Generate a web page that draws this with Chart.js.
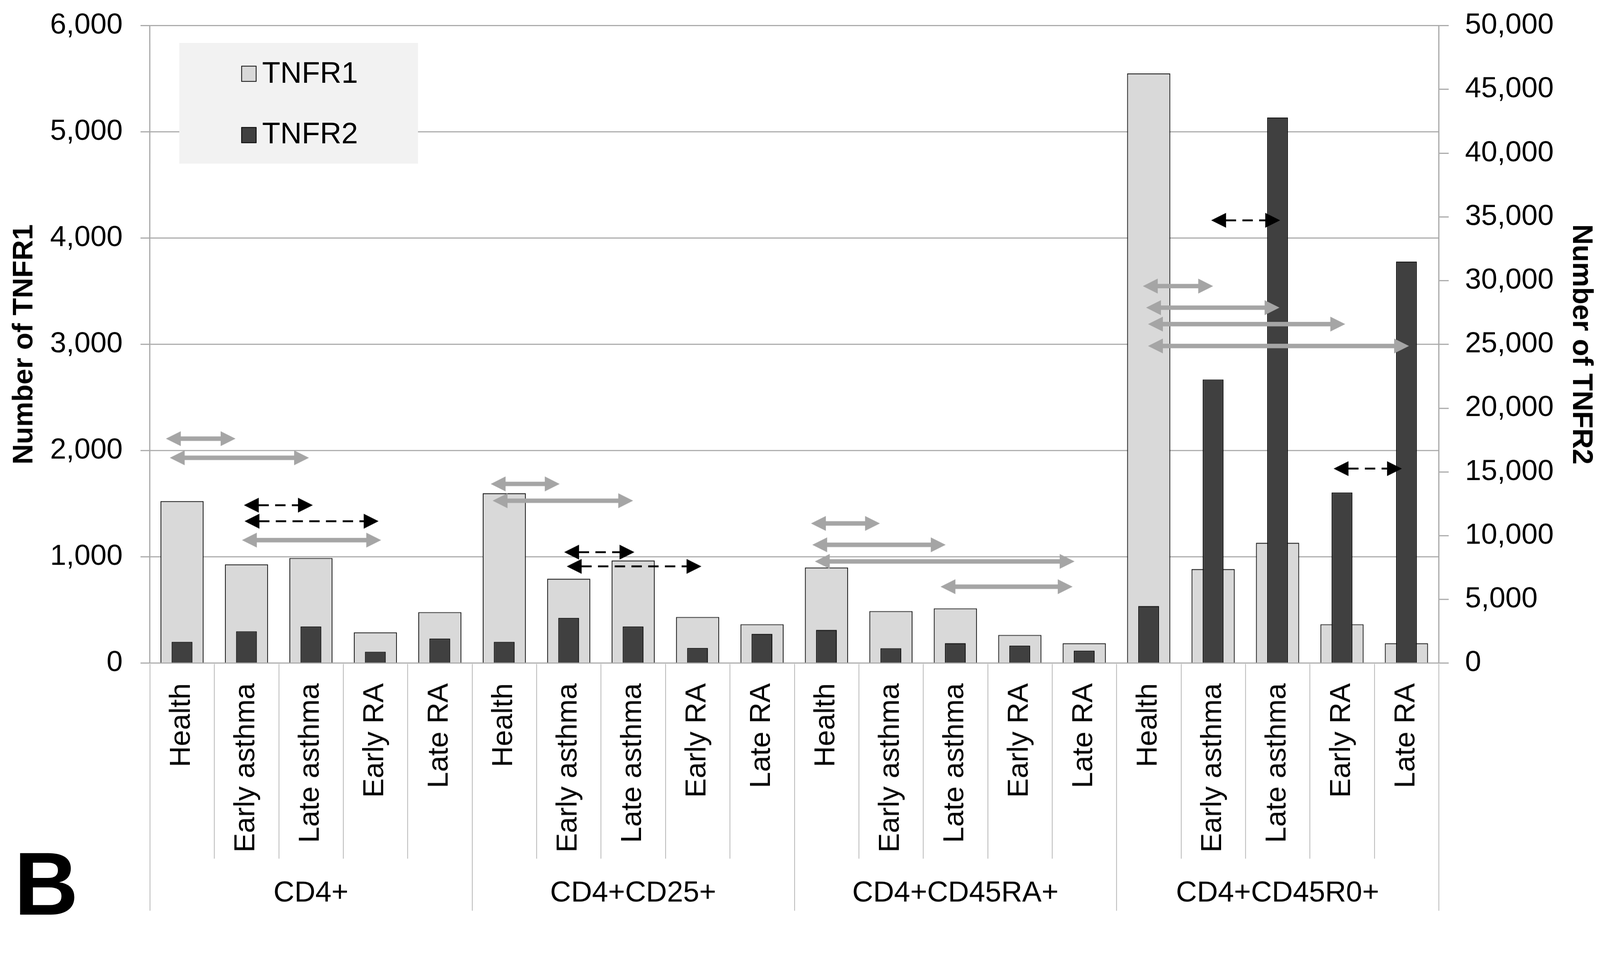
<!DOCTYPE html>
<html>
<head>
<meta charset="utf-8">
<title>TNFR1 / TNFR2 by T-cell subset</title>
<script src="https://cdn.jsdelivr.net/npm/chart.js@4.4.1/dist/chart.umd.min.js"></script>
<style>
  html, body { margin: 0; padding: 0; background: #fff; overflow: hidden; height: 100vh; }
  #frame { position: relative; width: 100vw; height: 100vh; overflow: hidden; }
  #wrap { position: absolute; left: 0; top: 0; width: 4304px; height: 2494px; transform-origin: 0 0;
          font-family: "Liberation Sans", Arial, sans-serif; }
  #legend { position: absolute; left: 482px; top: 116px; width: 641px; height: 324px; background: #f2f2f2; }
  .swatch { position: absolute; left: 167px; width: 41px; height: 43px; box-sizing: border-box; border: 2px solid #000; }
  .ltext { position: absolute; left: 223px; font-size: 80px; line-height: 80px; color: #000; }
  #panel { position: absolute; left: 38px; top: 2259px; font-size: 239px; line-height: 239px; font-weight: bold; color: #000; }
</style>
</head>
<body>
<div id="frame">
<div id="wrap">
  <canvas id="chart"></canvas>
  <div id="legend">
    <div class="swatch" style="top:61px;background:#d9d9d9"></div>
    <div class="ltext" style="top:40px">TNFR1</div>
    <div class="swatch" style="top:226px;background:#404040"></div>
    <div class="ltext" style="top:203px">TNFR2</div>
  </div>
  <div id="panel">B</div>
</div>
</div>
<script>
// ── Data ───────────────────────────────────────────────────────────────────

const GROUPS    = ["CD4+", "CD4+CD25+", "CD4+CD45RA+", "CD4+CD45R0+"];
const SUBGROUPS = ["Health", "Early asthma", "Late asthma", "Early RA", "Late RA"];

// left axis (TNFR1) and right axis (TNFR2), one value per group × subgroup
const TNFR1 = [1525, 930, 990, 290, 480,
               1600, 795, 966, 435, 366,
               900, 490, 516, 266, 188,
               5550, 885, 1133, 366, 188];
const TNFR2 = [1670, 2500, 2870, 900, 1930,
               1670, 3550, 2870, 1190, 2300,
               2610, 1175, 1570, 1370, 980,
               4480, 22250, 42800, 13380, 31500];

const LEFT_TICKS  = { max: 6000, step: 1000 };
const RIGHT_TICKS = { max: 50000, step: 5000 };

// comparison arrows: category span (index units) and height on the TNFR1 axis
const ARROW_FROM = [-0.25, -0.19, 0.96, 0.97, 0.93,
                    4.79, 4.82, 5.93, 5.97,
                    9.76, 9.78, 9.82, 11.77,
                    15.97, 14.91, 14.96, 14.99, 14.99, 17.87];
const ARROW_TO   = [0.83, 1.97, 2.03, 3.05, 3.09,
                    5.86, 7.00, 7.02, 8.06,
                    10.83, 11.85, 13.85, 13.82,
                    17.04, 16.00, 17.03, 18.05, 19.04, 18.93];
const ARROW_AT   = [2113, 1933, 1487, 1336, 1158,
                    1687, 1529, 1045, 911,
                    1315, 1114, 958, 720,
                    4168, 3549, 3346, 3191, 2985, 1831];
const ARROW_KIND = ["r1", "r1", "r2", "r2", "r1",
                    "r1", "r1", "r2", "r2",
                    "r1", "r1", "r1", "r1",
                    "r2", "r1", "r1", "r1", "r1", "r2"];

const LABELS = GROUPS.flatMap(() => SUBGROUPS);

// ── Styling ────────────────────────────────────────────────────────────────

const FONT = "'Liberation Sans', Arial, sans-serif";
const GRID = "#a6a6a6";
const ARROW_STYLE = {
  r1: { color: "#a5a5a5", width: 12, dash: [] },
  r2: { color: "#000000", width: 5,  dash: [28, 17] },
};
const HEAD_LEN = 40, HEAD_HALF = 20;

// the layout is drawn in a 4304-wide frame; fit it to the real viewport
const K = (window.innerWidth || 4304) / 4304;
document.getElementById("wrap").style.transform = `scale(${K})`;

Chart.defaults.font.family = FONT;
Chart.defaults.color = "#000";

const fmt = v => v.toLocaleString("en-US");

// fixed axis boxes, no extra label padding above/below the plot
const fixWidth = w => s => { s.width = w; s.paddingTop = 0; s.paddingBottom = 0; };

// arrows over the bars
const arrowPlugin = {
  id: "arrows",
  afterDatasetsDraw(chart) {
    const { ctx, scales: { x, y } } = chart;
    ARROW_FROM.forEach((from, i) => {
      const x1 = x.getPixelForValue(from);
      const x2 = x.getPixelForValue(ARROW_TO[i]);
      const yy = y.getPixelForValue(ARROW_AT[i]);
      const s  = ARROW_STYLE[ARROW_KIND[i]];
      ctx.save();
      ctx.strokeStyle = s.color;
      ctx.fillStyle = s.color;
      ctx.lineWidth = s.width;
      ctx.setLineDash(s.dash);
      ctx.beginPath();
      ctx.moveTo(x1 + HEAD_LEN - 1, yy);
      ctx.lineTo(x2 - HEAD_LEN + 1, yy);
      ctx.stroke();
      ctx.setLineDash([]);
      ctx.beginPath();
      ctx.moveTo(x1, yy);
      ctx.lineTo(x1 + HEAD_LEN, yy - HEAD_HALF);
      ctx.lineTo(x1 + HEAD_LEN, yy + HEAD_HALF);
      ctx.closePath();
      ctx.moveTo(x2, yy);
      ctx.lineTo(x2 - HEAD_LEN, yy - HEAD_HALF);
      ctx.lineTo(x2 - HEAD_LEN, yy + HEAD_HALF);
      ctx.closePath();
      ctx.fill();
      ctx.restore();
    });
  },
};

// two-level category axis: separators + group names
const groupAxisPlugin = {
  id: "groupAxis",
  afterDraw(chart) {
    const { ctx, chartArea, scales: { x } } = chart;
    const n = SUBGROUPS.length;
    ctx.save();
    ctx.strokeStyle = "#b4b4b4";
    ctx.lineWidth = 2;
    for (let i = 0; i <= LABELS.length; i++) {
      const px = Math.round(x.getPixelForValue(i - 0.5)) + 0.5;
      const bottom = i % n === 0 ? 2450 : 2310;
      ctx.beginPath();
      ctx.moveTo(px, chartArea.bottom + 2);
      ctx.lineTo(px, bottom);
      ctx.stroke();
    }
    ctx.fillStyle = "#000";
    ctx.font = "78px " + FONT;
    ctx.textAlign = "center";
    ctx.textBaseline = "middle";
    GROUPS.forEach((g, gi) => {
      ctx.fillText(g, x.getPixelForValue(gi * n + (n - 1) / 2), 2404);
    });
    ctx.restore();
  },
};

new Chart(document.getElementById("chart"), {
  type: "bar",
  data: {
    labels: LABELS,
    datasets: [
      {
        label: "TNFR1",
        data: TNFR1,
        yAxisID: "y",
        order: 2,
        grouped: false,
        backgroundColor: "#d9d9d9",
        borderColor: "#1e1e1e",
        borderWidth: 2.5,
        categoryPercentage: 1,
        barPercentage: 0.67,
      },
      {
        label: "TNFR2",
        data: TNFR2,
        yAxisID: "y2",
        order: 1,
        grouped: false,
        backgroundColor: "#404040",
        borderColor: "#111",
        borderWidth: 2.5,
        categoryPercentage: 1,
        barPercentage: 0.323,
      },
    ],
  },
  options: {
    responsive: true,
    maintainAspectRatio: false,
    devicePixelRatio: (window.devicePixelRatio || 1) * K,
    animation: false,
    layout: { padding: { top: 69, left: 0, right: 0, bottom: 0 } },
    plugins: {
      legend: { display: false },
      tooltip: { enabled: false },
    },
    scales: {
      x: {
        grid: { display: false, drawTicks: false },
        border: { display: false },
        ticks: {
          autoSkip: false,
          minRotation: 90,
          maxRotation: 90,
          padding: 54,
          font: { size: 78 },
          color: "#000",
        },
        afterFit: s => { s.height = 710; },
      },
      y: {
        position: "left",
        min: 0,
        max: LEFT_TICKS.max,
        grid: { color: GRID, lineWidth: 3, tickLength: 25 },
        border: { display: true, color: GRID, width: 3 },
        ticks: {
          stepSize: LEFT_TICKS.step,
          padding: 48,
          font: { size: 78 },
          color: "#000",
          callback: fmt,
        },
        title: {
          display: true,
          text: "Number of TNFR1",
          font: { size: 76, weight: "bold" },
          color: "#000",
          padding: { top: 21, bottom: 0 },
        },
        afterFit: fixWidth(403),
      },
      y2: {
        position: "right",
        min: 0,
        max: RIGHT_TICKS.max,
        grid: { drawOnChartArea: false, color: GRID, lineWidth: 3, tickLength: 27 },
        border: { display: true, color: GRID, width: 3 },
        ticks: {
          stepSize: RIGHT_TICKS.step,
          padding: 44,
          font: { size: 78 },
          color: "#000",
          callback: fmt,
        },
        title: {
          display: true,
          text: "Number of TNFR2",
          font: { size: 76, weight: "bold" },
          color: "#000",
          padding: { top: 6, bottom: 0 },
        },
        afterFit: fixWidth(434),
      },
    },
  },
  plugins: [arrowPlugin, groupAxisPlugin],
});
</script>
</body>
</html>
